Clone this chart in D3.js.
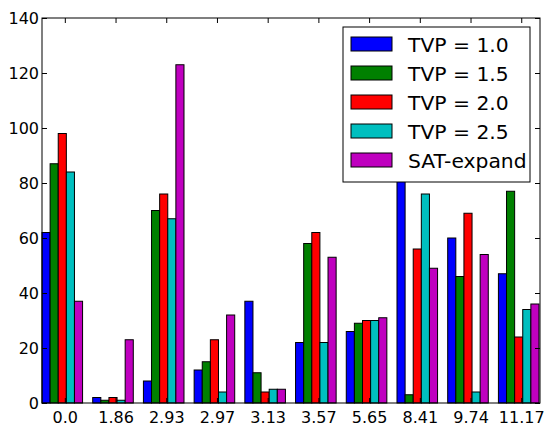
<!DOCTYPE html>
<html><head><meta charset="utf-8">
<script src="https://cdn.jsdelivr.net/npm/d3@7"></script>
<style>body{margin:0;background:#fff}svg{display:block}text{font-family:"DejaVu Sans",sans-serif}</style>
</head><body>
<svg id="chart" width="548" height="429"></svg>
<script>
const categories = ["0.0","1.86","2.93","2.97","3.13","3.57","5.65","8.41","9.74","11.17"];
const seriesNames = ["TVP = 1.0","TVP = 1.5","TVP = 2.0","TVP = 2.5","SAT-expand"];
const tvp10 = [62, 2, 8, 12, 37, 22, 26, 88, 60, 47];
const tvp15 = [87, 1, 70, 15, 11, 58, 29, 3, 46, 77];
const tvp20 = [98, 2, 76, 23, 4, 62, 30, 56, 69, 24];
const tvp25 = [84, 1, 67, 4, 5, 22, 30, 76, 4, 34];
const satExpand = [37, 23, 123, 32, 5, 53, 31, 49, 54, 36];
const yTicks = [0,20,40,60,80,100,120,140];
const colors = ["#0000ff","#008000","#ff0000","#00bfbf","#bf00bf"];
const series = [tvp10,tvp15,tvp20,tvp25,satExpand];

const W=548,H=429, m={left:42,top:18,right:8,bottom:26};
const svg=d3.select("#chart");
const barW=0.16;
const x=d3.scaleLinear().domain([0,9.82]).range([m.left,W-m.right]);
const y=d3.scaleLinear().domain([0,140]).range([H-m.bottom,m.top]);

// bars
series.forEach((vals,s)=>{
  svg.append("g").selectAll("rect").data(vals).join("rect")
    .attr("x",(d,i)=>x(i+s*barW))
    .attr("width",x(barW)-x(0))
    .attr("y",d=>y(d))
    .attr("height",d=>y(0)-y(d))
    .attr("fill",colors[s]).attr("stroke","#000").attr("stroke-width",1);
});

// axes
const xTickVals=categories.map((c,i)=>i+0.45);
const xb=d3.axisBottom(x).tickValues(xTickVals).tickFormat((d,i)=>categories[i]).tickSizeInner(-5).tickSizeOuter(0).tickPadding(9);
const xt=d3.axisTop(x).tickValues(xTickVals).tickFormat("").tickSizeInner(-5).tickSizeOuter(0);
const yl=d3.axisLeft(y).tickValues(yTicks).tickFormat(d3.format("d")).tickSizeInner(-5).tickSizeOuter(0).tickPadding(3);
const yr=d3.axisRight(y).tickValues(yTicks).tickFormat("").tickSizeInner(-5).tickSizeOuter(0);
function style(g){g.select(".domain").remove();g.selectAll("text").attr("font-size",16).attr("fill","#000").attr("font-family","DejaVu Sans");g.selectAll("line").attr("stroke","#000");}
svg.append("g").attr("transform",`translate(0,${y(0)})`).call(xb).call(style);
svg.append("g").attr("transform",`translate(0,${y(140)})`).call(xt).call(style);
svg.append("g").attr("transform",`translate(${x.range()[0]},0)`).call(yl).call(style);
svg.append("g").attr("transform",`translate(${x.range()[1]},0)`).call(yr).call(style);
svg.append("rect").attr("x",x.range()[0]).attr("y",y(140)).attr("width",x.range()[1]-x.range()[0]).attr("height",y(0)-y(140))
  .attr("fill","none").attr("stroke","#000").attr("stroke-width",1);

// legend
const lg=svg.append("g").attr("transform","translate(343,27)");
lg.append("rect").attr("width",187).attr("height",155).attr("fill","#fff").attr("stroke","#000").attr("stroke-width",1);
seriesNames.forEach((n,i)=>{
  const r=lg.append("g").attr("transform",`translate(0,${10+i*29})`);
  r.append("rect").attr("x",8).attr("y",0).attr("width",41).attr("height",14).attr("fill",colors[i]).attr("stroke","#000");
  r.append("text").attr("x",65).attr("y",14.5).attr("font-size",20.3).attr("fill","#000").text(n);
});
</script>
</body></html>
